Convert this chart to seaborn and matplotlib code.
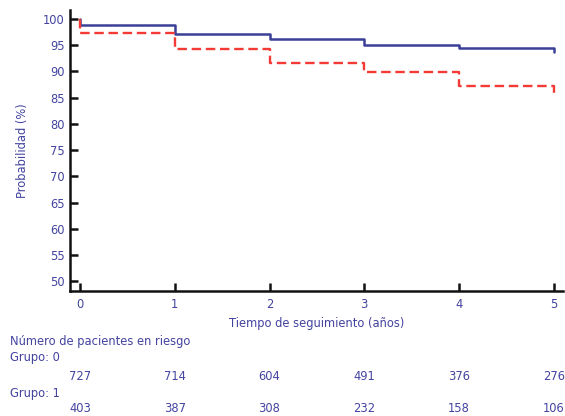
import matplotlib
matplotlib.use("Agg")
import matplotlib.pyplot as plt
import matplotlib.transforms as mtransforms
import numpy as np
import pandas as pd
import seaborn as sns

# Kaplan-Meier steps (first point is the start at 100 %)
tiempo = [0, 0, 1, 2, 3, 4, 5]
grupo0 = [100, 98.9, 97.1, 96.1, 95.1, 94.5, 93.7]
grupo1 = [100, 97.4, 94.3, 91.5, 89.8, 87.3, 85.5]

# numbers at risk
anios = [0, 1, 2, 3, 4, 5]
riesgo0 = [727, 714, 604, 491, 376, 276]
riesgo1 = [403, 387, 308, 232, 158, 106]

txt_color = '#4343a0'
blue = '#3b3f96'
red = '#f43a35'

sns.set_style('ticks')
plt.rcParams['font.family'] = ['DejaVu Sans']
fs = 8.3

df = pd.DataFrame({'t': tiempo + tiempo,
                   'p': grupo0 + grupo1,
                   'grupo': ['0'] * len(tiempo) + ['1'] * len(tiempo)})

fig = plt.figure(figsize=(5.65, 4.16), dpi=100)
ax = fig.add_axes([0.124, 0.300, 0.872, 0.676])

sns.lineplot(data=df[df.grupo == '0'], x='t', y='p', ax=ax, estimator=None, sort=False,
             drawstyle='steps-post', color=blue, linewidth=1.8)
sns.lineplot(data=df[df.grupo == '1'], x='t', y='p', ax=ax, estimator=None, sort=False,
             drawstyle='steps-post', color=red, linewidth=1.7, linestyle=(0, (4, 2)))

ax.set_xlim(-0.105, 5.095)
ax.set_ylim(48.1, 101.7)
ax.set_xticks(anios)
ax.set_yticks(np.arange(50, 101, 5))
sns.despine(ax=ax)
for s in ['left', 'bottom']:
    ax.spines[s].set_linewidth(1.8)
    ax.spines[s].set_color('#111111')
ax.tick_params(direction='in', length=6, width=1.8, colors='#111111',
               labelcolor=txt_color, labelsize=fs)
ax.tick_params(axis='x', pad=5)
ax.tick_params(axis='y', pad=4)
ax.set_xlabel('Tiempo de seguimiento (años)', color=txt_color, fontsize=fs, labelpad=4)
ax.set_ylabel('Probabilidad (%)', color=txt_color, fontsize=fs, labelpad=10)

# risk table below the axis
trans = mtransforms.blended_transform_factory(ax.transData, fig.transFigure)
fig.text(10 / 565, 1 - 342 / 416, 'Número de pacientes en riesgo', color=txt_color,
         fontsize=fs, va='center')
fig.text(10 / 565, 1 - 358 / 416, 'Grupo: 0', color=txt_color, fontsize=fs, va='center')
fig.text(10 / 565, 1 - 393 / 416, 'Grupo: 1', color=txt_color, fontsize=fs, va='center')
for a, r0, r1 in zip(anios, riesgo0, riesgo1):
    ax.text(a, 1 - 376 / 416, str(r0), transform=trans, color=txt_color, fontsize=fs,
            ha='center', va='center', clip_on=False)
    ax.text(a, 1 - 409 / 416, str(r1), transform=trans, color=txt_color, fontsize=fs,
            ha='center', va='center', clip_on=False)

fig.savefig('out.png', dpi=100)
